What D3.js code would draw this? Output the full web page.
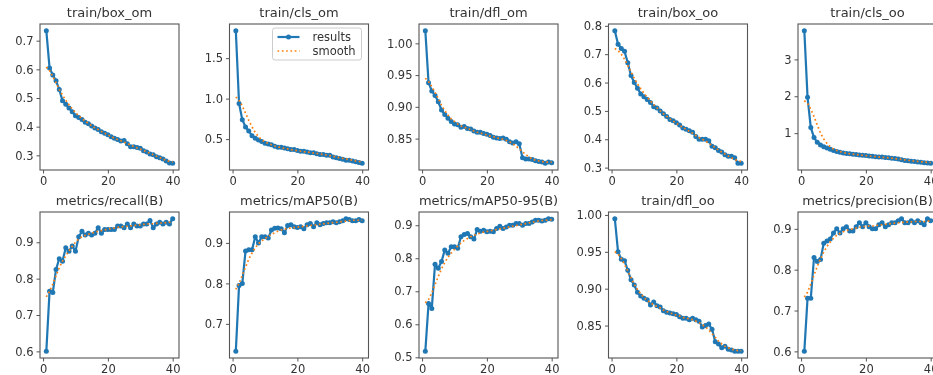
<!DOCTYPE html>
<html>
<head>
<meta charset="utf-8">
<script src="https://cdn.jsdelivr.net/npm/d3@7"></script>
<style>
  html, body { margin: 0; padding: 0; background: #fff; overflow: hidden; }
  svg { display: block; font-family: "DejaVu Sans", sans-serif; filter: blur(0.35px); }
</style>
</head>
<body>
<svg id="chart" width="933" height="375"></svg>
<script>
const epochs = [1,2,3,4,5,6,7,8,9,10,11,12,13,14,15,16,17,18,19,20,21,22,23,24,25,26,27,28,29,30,31,32,33,34,35,36,37,38,39,40];
const titles = ["train/box_om","train/cls_om","train/dfl_om","train/box_oo","train/cls_oo",
  "metrics/recall(B)","metrics/mAP50(B)","metrics/mAP50-95(B)","train/dfl_oo","metrics/precision(B)"];
const xTicks = [0, 20, 40];

// results
const boxOm = [0.735,0.605,0.58,0.56,0.53,0.49,0.478,0.465,0.452,0.438,0.432,0.425,0.415,0.41,0.402,0.395,0.39,0.382,0.377,0.372,0.365,0.36,0.355,0.35,0.352,0.34,0.33,0.33,0.327,0.325,0.316,0.312,0.305,0.302,0.295,0.292,0.287,0.28,0.273,0.272];
const clsOm = [1.84,0.94,0.74,0.65,0.6,0.54,0.51,0.49,0.47,0.45,0.44,0.43,0.41,0.4,0.4,0.39,0.38,0.37,0.37,0.36,0.35,0.35,0.34,0.33,0.33,0.32,0.31,0.31,0.3,0.3,0.28,0.27,0.26,0.25,0.24,0.24,0.23,0.22,0.21,0.2];
const dflOm = [1.02,0.938,0.925,0.918,0.908,0.895,0.888,0.882,0.877,0.873,0.872,0.868,0.869,0.866,0.865,0.862,0.86,0.86,0.858,0.857,0.855,0.852,0.851,0.85,0.851,0.849,0.845,0.843,0.845,0.842,0.82,0.818,0.818,0.817,0.815,0.814,0.813,0.811,0.813,0.812];
const boxOo = [0.783,0.735,0.72,0.71,0.67,0.625,0.6,0.58,0.56,0.55,0.54,0.53,0.515,0.51,0.5,0.49,0.48,0.47,0.465,0.458,0.45,0.44,0.435,0.43,0.425,0.41,0.4,0.4,0.4,0.395,0.375,0.37,0.36,0.355,0.345,0.34,0.34,0.335,0.315,0.315];
const clsOo = [3.78,1.97,1.15,0.88,0.75,0.68,0.63,0.6,0.56,0.53,0.5,0.48,0.46,0.45,0.44,0.43,0.42,0.41,0.4,0.39,0.38,0.37,0.36,0.35,0.35,0.34,0.33,0.32,0.31,0.3,0.28,0.26,0.25,0.24,0.23,0.22,0.21,0.2,0.19,0.18];
const recall = [0.6,0.765,0.762,0.825,0.855,0.848,0.885,0.875,0.89,0.875,0.915,0.93,0.92,0.925,0.92,0.925,0.94,0.925,0.935,0.935,0.935,0.935,0.945,0.945,0.94,0.95,0.94,0.95,0.945,0.945,0.95,0.95,0.96,0.94,0.95,0.955,0.95,0.955,0.95,0.965];
const map50 = [0.632,0.795,0.8,0.88,0.883,0.883,0.915,0.9,0.915,0.915,0.912,0.932,0.936,0.937,0.935,0.925,0.943,0.945,0.94,0.938,0.94,0.935,0.945,0.948,0.94,0.95,0.945,0.948,0.95,0.95,0.952,0.95,0.952,0.955,0.96,0.958,0.955,0.955,0.958,0.955];
const map5095 = [0.518,0.663,0.648,0.782,0.77,0.79,0.825,0.815,0.835,0.835,0.83,0.865,0.872,0.875,0.865,0.858,0.887,0.882,0.885,0.88,0.882,0.88,0.89,0.897,0.89,0.895,0.9,0.9,0.905,0.905,0.9,0.905,0.905,0.91,0.915,0.915,0.913,0.915,0.92,0.918];
const dflOo = [0.995,0.95,0.94,0.938,0.925,0.912,0.905,0.895,0.89,0.887,0.885,0.878,0.882,0.877,0.875,0.87,0.868,0.867,0.866,0.865,0.862,0.86,0.86,0.858,0.86,0.858,0.856,0.848,0.85,0.852,0.845,0.828,0.825,0.82,0.822,0.818,0.817,0.815,0.815,0.815];
const precision = [0.6,0.73,0.73,0.83,0.82,0.825,0.865,0.87,0.875,0.89,0.9,0.89,0.9,0.905,0.895,0.895,0.905,0.915,0.905,0.915,0.905,0.9,0.9,0.91,0.915,0.905,0.91,0.915,0.915,0.92,0.925,0.915,0.915,0.92,0.915,0.92,0.915,0.91,0.925,0.92];

// smooth curves
const boxOmS = [0.608,0.595,0.575,0.553,0.53,0.51,0.492,0.476,0.462,0.449,0.438,0.428,0.419,0.411,0.403,0.396,0.39,0.383,0.377,0.371,0.366,0.36,0.355,0.351,0.346,0.341,0.336,0.331,0.326,0.322,0.317,0.312,0.307,0.302,0.297,0.292,0.287,0.282,0.279,0.277];
const clsOmS = [1.02,0.98,0.91,0.82,0.73,0.65,0.58,0.53,0.49,0.465,0.445,0.43,0.415,0.405,0.395,0.385,0.378,0.37,0.363,0.357,0.35,0.345,0.34,0.334,0.328,0.322,0.316,0.31,0.303,0.295,0.287,0.278,0.27,0.262,0.254,0.246,0.238,0.23,0.224,0.22];
const dflOmS = [0.945,0.94,0.932,0.923,0.913,0.903,0.894,0.887,0.881,0.877,0.873,0.87,0.868,0.866,0.864,0.862,0.86,0.859,0.857,0.856,0.854,0.853,0.851,0.85,0.849,0.847,0.845,0.842,0.838,0.834,0.829,0.825,0.821,0.818,0.816,0.815,0.814,0.813,0.813,0.813];
const boxOoS = [0.72,0.713,0.7,0.682,0.66,0.637,0.615,0.595,0.578,0.562,0.548,0.535,0.522,0.511,0.5,0.49,0.481,0.472,0.464,0.456,0.449,0.442,0.435,0.428,0.421,0.413,0.406,0.4,0.393,0.386,0.378,0.37,0.362,0.355,0.348,0.341,0.335,0.329,0.324,0.322];
const clsOoS = [1.88,1.8,1.65,1.45,1.22,1.0,0.84,0.72,0.63,0.57,0.53,0.5,0.475,0.455,0.44,0.43,0.42,0.41,0.4,0.39,0.38,0.37,0.362,0.354,0.346,0.338,0.33,0.32,0.31,0.3,0.288,0.276,0.265,0.254,0.243,0.233,0.223,0.214,0.207,0.203];
const recallS = [0.75,0.765,0.785,0.808,0.83,0.848,0.863,0.876,0.889,0.9,0.909,0.915,0.919,0.922,0.925,0.928,0.93,0.932,0.934,0.936,0.938,0.939,0.941,0.942,0.943,0.944,0.945,0.946,0.947,0.948,0.949,0.95,0.951,0.951,0.952,0.953,0.953,0.954,0.955,0.955];
const map50S = [0.785,0.8,0.82,0.84,0.86,0.875,0.888,0.898,0.905,0.911,0.916,0.921,0.925,0.929,0.932,0.934,0.936,0.937,0.938,0.939,0.94,0.941,0.942,0.943,0.944,0.945,0.946,0.947,0.948,0.949,0.95,0.951,0.952,0.953,0.954,0.955,0.956,0.956,0.956,0.956];
const map5095S = [0.665,0.675,0.695,0.72,0.745,0.768,0.787,0.803,0.816,0.827,0.837,0.846,0.854,0.86,0.865,0.869,0.873,0.876,0.879,0.881,0.883,0.885,0.887,0.889,0.891,0.893,0.895,0.897,0.899,0.901,0.903,0.905,0.907,0.909,0.911,0.913,0.914,0.915,0.916,0.917];
const dflOoS = [0.95,0.947,0.941,0.933,0.924,0.915,0.906,0.899,0.893,0.888,0.884,0.881,0.878,0.876,0.874,0.871,0.869,0.867,0.866,0.864,0.863,0.861,0.86,0.859,0.858,0.856,0.854,0.851,0.848,0.844,0.839,0.834,0.829,0.825,0.822,0.82,0.818,0.817,0.816,0.816];
const precisionS = [0.733,0.745,0.765,0.787,0.808,0.827,0.843,0.857,0.868,0.877,0.884,0.889,0.893,0.896,0.898,0.9,0.902,0.904,0.905,0.906,0.907,0.907,0.908,0.909,0.91,0.911,0.912,0.913,0.914,0.915,0.916,0.916,0.917,0.917,0.918,0.918,0.918,0.918,0.919,0.919];

const yTicks = [
  [0.3,0.4,0.5,0.6,0.7], [0.5,1.0,1.5], [0.85,0.90,0.95,1.00], [0.3,0.4,0.5,0.6,0.7,0.8], [1,2,3],
  [0.6,0.7,0.8,0.9], [0.7,0.8,0.9], [0.5,0.6,0.7,0.8,0.9], [0.85,0.90,0.95,1.00], [0.6,0.7,0.8,0.9]
];
const yTickFmt = [".1f",".1f",".2f",".1f","d",".1f",".1f",".1f",".2f",".1f"];

const results = [boxOm, clsOm, dflOm, boxOo, clsOo, recall, map50, map5095, dflOo, precision];
const smooth = [boxOmS, clsOmS, dflOmS, boxOoS, clsOoS, recallS, map50S, map5095S, dflOoS, precisionS];

const svg = d3.select("#chart");
const panelW = 139, colStep = 189.5, left0 = 40;
const rowTop = [24, 212], panelH = 146;
const blue = "#1f77b4", orange = "#ff7f0e";

titles.forEach((title, i) => {
  const row = Math.floor(i / 5), col = i % 5;
  const x0 = left0 + col * colStep, y0 = rowTop[row];
  const g = svg.append("g").attr("transform", `translate(${x0},${y0})`);

  // matplotlib style 5% autoscale margins
  const xs = d3.scaleLinear().domain([1 - 39 * 0.05, 40 + 39 * 0.05]).range([0, panelW]);
  const all = results[i].concat(smooth[i]);
  const lo = d3.min(all), hi = d3.max(all), pad = (hi - lo) * 0.05;
  const ys = d3.scaleLinear().domain([lo - pad, hi + pad]).range([panelH, 0]);

  const clip = "clip" + i;
  g.append("clipPath").attr("id", clip).append("rect").attr("width", panelW).attr("height", panelH);

  const xAxis = g.append("g").attr("transform", `translate(0,${panelH})`)
    .call(d3.axisBottom(xs).tickValues(xTicks).tickSize(3.5).tickPadding(3).tickFormat(d3.format("d")));
  const yAxis = g.append("g")
    .call(d3.axisLeft(ys).tickValues(yTicks[i]).tickSize(3.5).tickPadding(3).tickFormat(d3.format(yTickFmt[i])));
  [xAxis, yAxis].forEach(a => {
    a.select(".domain").remove();
    a.selectAll("line").attr("stroke", "#555").attr("stroke-width", 1);
    a.selectAll("text").attr("fill", "#333").style("font-size", "11.5px").style("font-family", "DejaVu Sans");
  });

  const plot = g.append("g").attr("clip-path", `url(#${clip})`);
  const line = d3.line().x((d, k) => xs(epochs[k])).y(d => ys(d));

  plot.append("path").datum(results[i]).attr("d", line)
    .attr("fill", "none").attr("stroke", blue).attr("stroke-width", 2.2).attr("stroke-linejoin", "round");
  plot.selectAll("circle").data(results[i]).enter().append("circle")
    .attr("cx", (d, k) => xs(epochs[k])).attr("cy", d => ys(d)).attr("r", 2.5).attr("fill", blue);
  plot.append("path").datum(smooth[i]).attr("d", line)
    .attr("fill", "none").attr("stroke", orange).attr("stroke-width", 1.7).attr("stroke-dasharray", "1.7,2.6");

  g.append("rect").attr("width", panelW).attr("height", panelH)
    .attr("fill", "none").attr("stroke", "#555").attr("stroke-width", 1.1);

  g.append("text").attr("x", panelW / 2).attr("y", -7).attr("text-anchor", "middle")
    .attr("fill", "#333").style("font-size", "13px").text(title);

  if (i === 1) {
    const lg = g.append("g").attr("transform", `translate(${panelW - 96},4)`);
    lg.append("rect").attr("width", 89).attr("height", 32).attr("rx", 2.5)
      .attr("fill", "#fff").attr("fill-opacity", 0.8).attr("stroke", "#ccc");
    lg.append("line").attr("x1", 5).attr("x2", 27).attr("y1", 9).attr("y2", 9)
      .attr("stroke", blue).attr("stroke-width", 2.2);
    lg.append("circle").attr("cx", 16).attr("cy", 9).attr("r", 2.5).attr("fill", blue);
    lg.append("line").attr("x1", 5).attr("x2", 27).attr("y1", 23).attr("y2", 23)
      .attr("stroke", orange).attr("stroke-width", 1.7).attr("stroke-dasharray", "1.7,2.6");
    lg.append("text").attr("x", 40).attr("y", 13).attr("fill", "#333").style("font-size", "11.5px").text("results");
    lg.append("text").attr("x", 40).attr("y", 27).attr("fill", "#333").style("font-size", "11.5px").text("smooth");
  }
});
</script>
</body>
</html>
